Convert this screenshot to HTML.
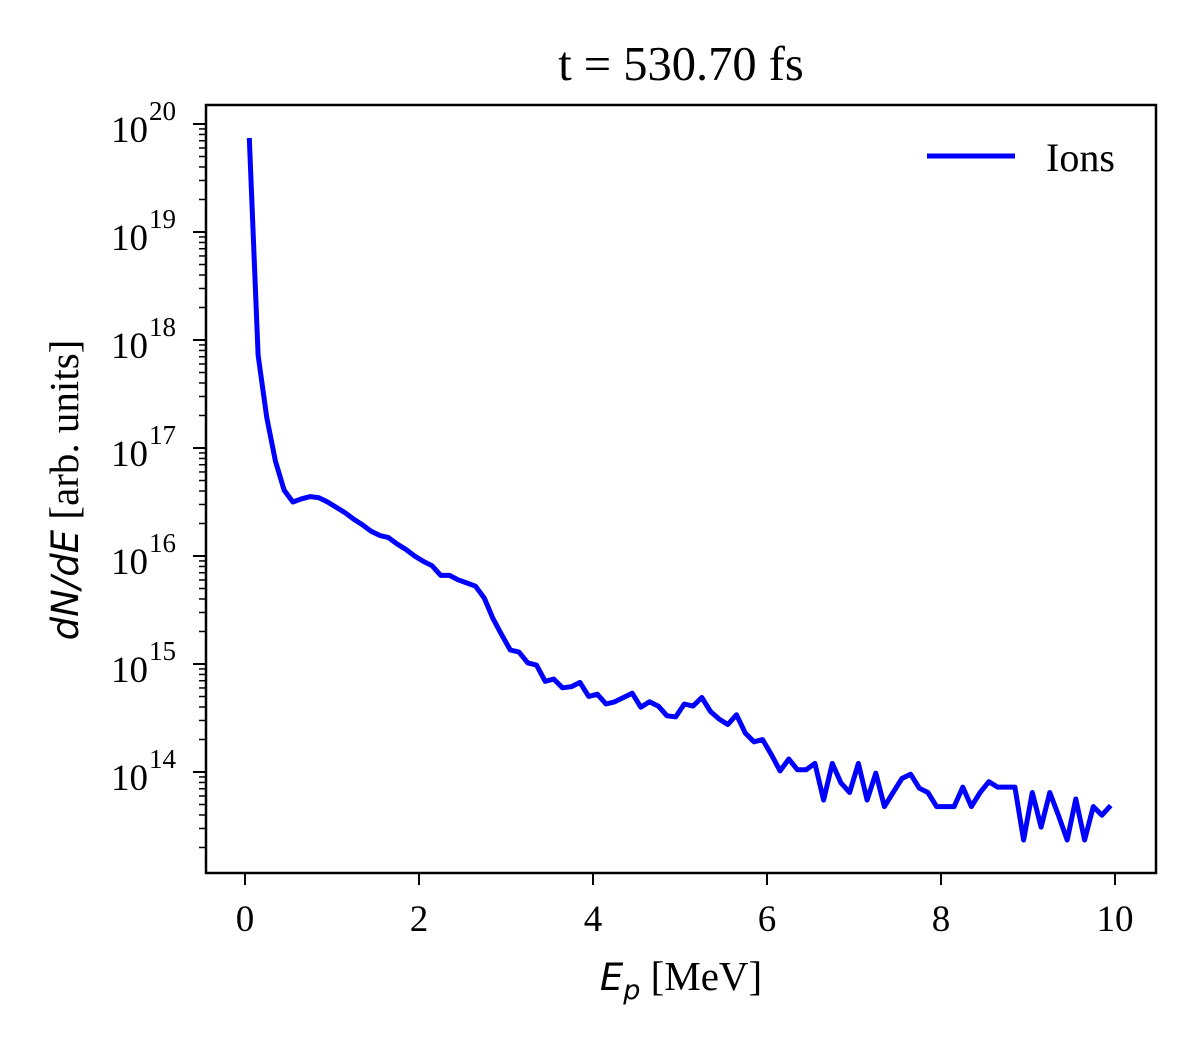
<!DOCTYPE html>
<html><head><meta charset="utf-8"><style>
html,body{margin:0;padding:0;background:#fff;}
svg text{font-family:"Liberation Serif",serif;fill:#000;}
</style></head><body>
<svg id="chart" width="1200" height="1050" viewBox="0 0 1200 1050" xmlns="http://www.w3.org/2000/svg">
<text x="681" y="80" font-size="48.5" text-anchor="middle">t = 530.70 fs</text>
<g id="ticks"></g>
<path id="series" fill="none" stroke="#0000ff" stroke-width="5" stroke-linejoin="round"/>
<rect x="206" y="105" width="950" height="768" fill="none" stroke="#000" stroke-width="2.5"/>
<g>
<line x1="927" y1="156" x2="1015" y2="156" stroke="#0000ff" stroke-width="5"/>
<text x="1046" y="171" font-size="40">Ions</text>
</g>
<text x="681" y="990" font-size="41" text-anchor="middle"><tspan font-family="'DejaVu Sans',sans-serif" font-style="italic" font-size="37">E</tspan><tspan font-family="'DejaVu Sans',sans-serif" font-style="italic" font-size="27" dy="9">p</tspan><tspan dy="-9"> [MeV]</tspan></text>
<text transform="translate(78,490) rotate(-90)" font-size="41" text-anchor="middle"><tspan font-family="'DejaVu Sans',sans-serif" font-style="italic" font-size="37">dN/dE</tspan> [arb. units]</text>
</svg>
<script>
const energies = [];
for (let i = 0; i < 100; i++) energies.push(+(0.05 + 0.1 * i).toFixed(2));
const logCounts = [19.87,17.86,17.28,16.88,16.61,16.50,16.53,16.55,16.54,16.50,
16.45,16.40,16.34,16.29,16.23,16.19,16.17,16.11,16.06,16.00,
15.95,15.91,15.82,15.82,15.78,15.75,15.72,15.61,15.42,15.27,
15.13,15.11,15.01,14.99,14.84,14.86,14.78,14.79,14.83,14.70,
14.72,14.63,14.65,14.69,14.73,14.60,14.65,14.61,14.52,14.51,
14.63,14.61,14.69,14.56,14.49,14.44,14.53,14.36,14.28,14.30,
14.16,14.01,14.12,14.02,14.02,14.08,13.74,14.08,13.90,13.81,
14.08,13.74,13.99,13.68,13.81,13.94,13.98,13.85,13.81,13.68,
13.68,13.68,13.86,13.68,13.81,13.91,13.86,13.86,13.86,13.37,
13.81,13.49,13.81,13.60,13.37,13.75,13.37,13.68,13.60,13.69];
const counts = logCounts.map(v => Math.pow(10, v));
const xTicks = [0, 2, 4, 6, 8, 10];
const yDecades = [14, 15, 16, 17, 18, 19, 20];

const NS = "http://www.w3.org/2000/svg";
function xs(v){ return 245 + 87 * v; }
function ys(v){ return 124 + (20 - Math.log10(v)) * 108; }
const yTop = 105, yBot = 873, xL = 206;

let d = "";
energies.forEach((e, i) => { d += (i ? "L" : "M") + xs(e).toFixed(1) + "," + ys(counts[i]).toFixed(1); });
document.getElementById("series").setAttribute("d", d);

const g = document.getElementById("ticks");
function line(x1,y1,x2,y2,w){
  const l = document.createElementNS(NS,"line");
  l.setAttribute("x1",x1);l.setAttribute("y1",y1);l.setAttribute("x2",x2);l.setAttribute("y2",y2);
  l.setAttribute("stroke","#000");l.setAttribute("stroke-width",w);
  g.appendChild(l); return l;
}
xTicks.forEach(t => {
  const l = line(xs(t), yBot, xs(t), yBot + 12, 2);
  
  
  const tx = document.createElementNS(NS,"text");
  tx.setAttribute("x", xs(t)); tx.setAttribute("y", 931);
  tx.setAttribute("font-size","37"); tx.setAttribute("text-anchor","middle");
  tx.textContent = t;
  
  
  g.appendChild(tx);
});
for (let dec = 13; dec <= 20; dec++) {
  for (let m = 1; m <= 9; m++) {
    const v = m * Math.pow(10, dec);
    const y = ys(v);
    if (y < yTop || y > yBot) continue;
    if (m === 1) {
      const l = line(xL - 13, y, xL, y, 2);
      
      
    } else {
      const l = line(xL - 7, y, xL, y, 1.5);
      
      
    }
  }
}
yDecades.forEach(dec => {
  const y = ys(Math.pow(10, dec));
  const tx = document.createElementNS(NS,"text");
  tx.setAttribute("x", 148); tx.setAttribute("y", y + 18);
  tx.setAttribute("font-size","37"); tx.setAttribute("text-anchor","end");
  tx.textContent = "10";
  
  
  g.appendChild(tx);
  const sp = document.createElementNS(NS,"text");
  sp.setAttribute("x", 149); sp.setAttribute("y", y - 4);
  sp.setAttribute("font-size","27");
  sp.textContent = dec;
  
  
  g.appendChild(sp);
});
</script>
</body></html>
